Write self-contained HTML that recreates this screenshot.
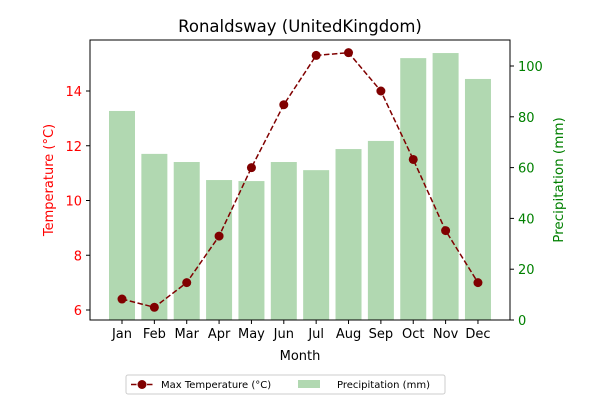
<!DOCTYPE html>
<html><head><meta charset="utf-8"><style>
body{margin:0;background:#fff;font-family:"Liberation Sans","DejaVu Sans",sans-serif}
svg text{font-family:"DejaVu Sans","Liberation Sans",sans-serif}
</style></head><body>
<svg id="c" width="600" height="400" xmlns="http://www.w3.org/2000/svg"></svg>
<script>
const months=["Jan","Feb","Mar","Apr","May","Jun","Jul","Aug","Sep","Oct","Nov","Dec"];
const temps=[6.4,6.1,7.0,8.7,11.2,13.5,15.3,15.4,14.0,11.5,8.9,7.0];
const precip=[82.3,65.4,62.2,55.1,54.7,62.2,59.0,67.3,70.5,103.1,105.1,94.9];
const leftTicks=[6,8,10,12,14];
const rightTicks=[0,20,40,60,80,100];
const svg=document.getElementById('c');
const NS='http://www.w3.org/2000/svg';
function mk(t,a,p){const e=document.createElementNS(NS,t);for(const k in a)e.setAttribute(k,a[k]);(p||svg).appendChild(e);return e;}
const L=90,R=510,T=40,B=320;
const xS=i=>122+i*32.36;
const yL=v=>310-(v-6)*27.375;
const yR=v=>320-v*2.54;
let t=mk('text',{x:300,y:32,'text-anchor':'middle','font-size':16.5});t.textContent='Ronaldsway (UnitedKingdom)';


precip.forEach((v,i)=>{const r=mk('rect',{x:xS(i)-13,y:yR(v),width:26,height:B-yR(v),fill:'#b1d8b1'});

});
let d=temps.map((v,i)=>(i?'L':'M')+xS(i)+' '+yL(v)).join(' ');
const ln=mk('path',{d:d,fill:'none',stroke:'#800000','stroke-width':1.5,'stroke-dasharray':'5.5,2.5'});


temps.forEach((v,i)=>{const c=mk('circle',{cx:xS(i),cy:yL(v),r:4.5,fill:'#800000'});

});
const fr=mk('rect',{x:L,y:T,width:R-L,height:B-T,fill:'none',stroke:'#000','stroke-width':1});


months.forEach((m,i)=>{mk('line',{x1:xS(i),x2:xS(i),y1:B,y2:B+4,stroke:'#000'});
const tx=mk('text',{x:xS(i),y:B+18,'text-anchor':'middle','font-size':13});tx.textContent=m;

});
leftTicks.forEach(v=>{mk('line',{x1:L-4,x2:L,y1:yL(v),y2:yL(v),stroke:'#000'});
const tx=mk('text',{x:L-8,y:yL(v)+5,'text-anchor':'end','font-size':13,fill:'red'});tx.textContent=v;

});
rightTicks.forEach(v=>{mk('line',{x1:R,x2:R+4,y1:yR(v),y2:yR(v),stroke:'#000'});
const tx=mk('text',{x:R+8,y:yR(v)+5,'text-anchor':'start','font-size':13,fill:'green'});tx.textContent=v;

});
t=mk('text',{x:300,y:360,'text-anchor':'middle','font-size':13});t.textContent='Month';


t=mk('text',{x:0,y:0,'text-anchor':'middle','font-size':13,fill:'red',transform:'translate(53,180) rotate(-90)'});t.textContent='Temperature (°C)';


t=mk('text',{x:0,y:0,'text-anchor':'middle','font-size':13.5,fill:'green',transform:'translate(563,180) rotate(-90)'});t.textContent='Precipitation (mm)';


const lg=mk('g',{});


mk('rect',{x:126,y:375,width:319,height:19,rx:2,fill:'#fff',stroke:'#ccc'},lg);
mk('line',{x1:131,x2:153,y1:384.5,y2:384.5,stroke:'#800000','stroke-width':1.5,'stroke-dasharray':'5.5,2.5'},lg);
mk('circle',{cx:142,cy:384.5,r:4.5,fill:'#800000'},lg);
t=mk('text',{x:161,y:388,'font-size':10},lg);t.textContent='Max Temperature (°C)';
mk('rect',{x:298,y:380,width:22,height:8,fill:'#b1d8b1'},lg);
t=mk('text',{x:337,y:388,'font-size':10},lg);t.textContent='Precipitation (mm)';
</script>
</body></html>
